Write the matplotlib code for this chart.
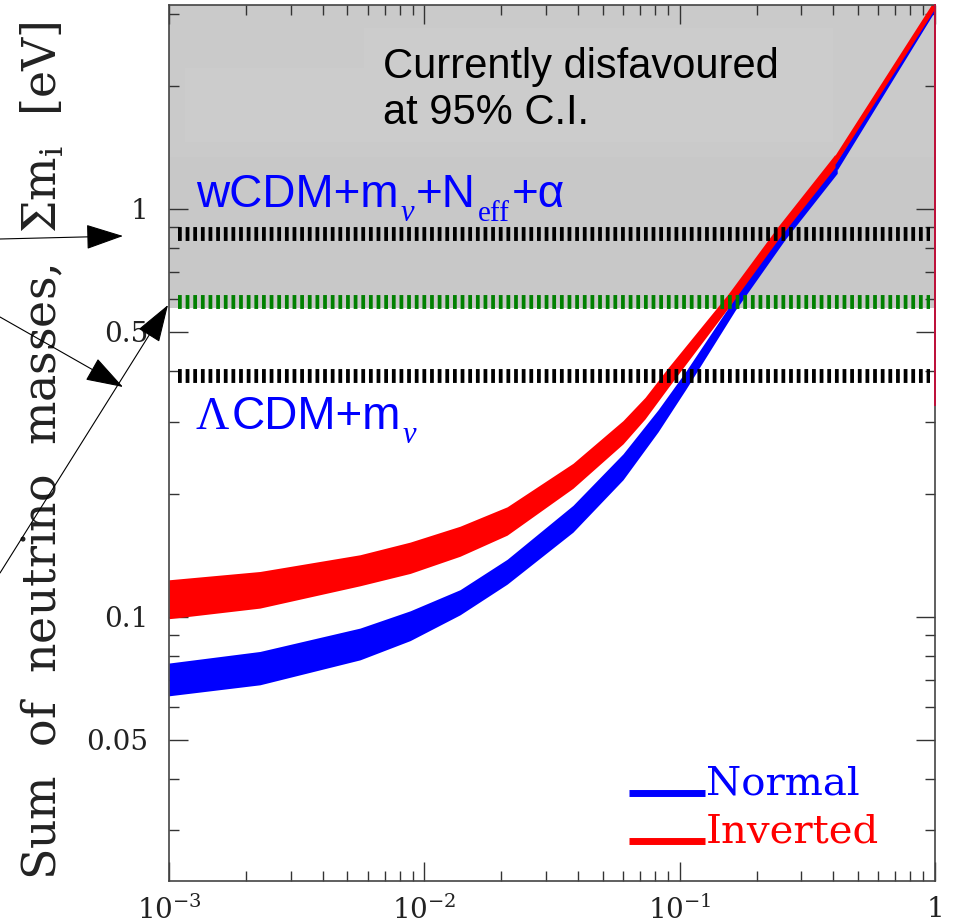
import matplotlib

matplotlib.use("Agg")
import matplotlib.pyplot as plt
from matplotlib.patches import FancyArrowPatch, Rectangle
from matplotlib.ticker import FixedLocator, LogLocator, NullFormatter

# ---- data ------------------------------------------------------------------
# inverted hierarchy band
inv_m = [0.001, 0.00227, 0.0056, 0.0088, 0.0138, 0.0211, 0.0382, 0.060,
         0.0732, 0.090, 0.155, 0.243, 0.406]
inv_hi = [0.1232, 0.1291, 0.1419, 0.1524, 0.1667, 0.1860, 0.2377, 0.3026,
          0.3449, 0.4076, 0.6190, 0.9060, 1.360]
inv_lo = [0.0989, 0.1050, 0.1191, 0.1277, 0.1407, 0.1585, 0.2065, 0.2653,
          0.3056, 0.3641, 0.5719, 0.8418, 1.264]
# normal hierarchy band
nor_m = [0.001, 0.00227, 0.0056, 0.0088, 0.0138, 0.0211, 0.0382, 0.060,
         0.0823, 0.106, 0.165, 0.259, 0.414]
nor_hi = [0.0770, 0.0822, 0.0938, 0.1034, 0.1165, 0.1383, 0.1875, 0.2508,
          0.3216, 0.4008, 0.6068, 0.9060, 1.315]
nor_lo = [0.0640, 0.0681, 0.0784, 0.0874, 0.1011, 0.1202, 0.1612, 0.2167,
          0.2840, 0.3621, 0.5640, 0.8418, 1.222]

# thin continuation of both bands up to the corner
inv_tail_m = [0.406, 1.0]
inv_tail = [1.31, 3.16]
nor_tail_m = [0.414, 1.0]
nor_tail = [1.27, 3.12]
edge_line = [0.33, 3.16]   # red trace running down the right edge

limit_wcdm = 0.87      # black dashed, upper
limit_95 = 0.59        # green dashed
limit_lcdm = 0.39      # black dashed, lower
gray_floor = 0.57

x_lim = (1e-3, 1.0)
y_lim = (0.0225, 3.16)
x_major = [1e-3, 1e-2, 1e-1, 1.0]
x_labels = [r"$10^{-3}$", r"$10^{-2}$", r"$10^{-1}$", "1"]
y_major = [0.05, 0.1, 0.5, 1.0]
y_labels = ["0.05", "0.1", "0.5", "1"]
y_minor = [0.03, 0.04, 0.06, 0.07, 0.08, 0.09, 0.2, 0.3, 0.4,
           0.6, 0.7, 0.8, 0.9, 2, 3]

_BLUE = "#0000ff"
_RED = "#ff0000"
_GREEN = "#008000"
_INK = "#222222"
_SANS = "Liberation Sans"
_SERIF = "Liberation Serif"
W, H = 954, 924

fig = plt.figure(figsize=(W / 100, H / 100), dpi=100)
ax = fig.add_axes([169 / W, 1 - 881 / H, 766 / W, 876 / H])
ax.set_xscale("log")
ax.set_yscale("log")
ax.set_xlim(*x_lim)
ax.set_ylim(*y_lim)

# disfavoured region
ax.axhspan(gray_floor, y_lim[1], color="#c8c8c8", lw=0, zorder=0)
for (x0, y0, w, h, c) in [(0.0, 0.8265, 1.0, 0.1735, "#cacaca"),
                          (0.0209, 0.8436, 0.2337, 0.0844, "#cccccc"),
                          (0.2546, 0.8436, 0.6122, 0.1301, "#cccccc")]:
    ax.add_patch(Rectangle((x0, y0), w, h, transform=ax.transAxes, fc=c,
                           ec="none", zorder=0.5))

# hierarchy bands
ax.fill_between(nor_m, nor_lo, nor_hi, color=_BLUE, lw=0, zorder=2)
ax.plot(nor_tail_m, nor_tail, color=_BLUE, lw=3.6, zorder=2)
ax.fill_between(inv_m, inv_lo, inv_hi, color=_RED, lw=0, zorder=2.1)
ax.plot(inv_tail_m, inv_tail, color=_RED, lw=3.6, zorder=2.1)
ax.plot([1.0, 1.0], edge_line, color="#c0103a", lw=1.4, zorder=2.6,
        clip_on=False)

# upper limits
dash = (0, (0.27, 0.28))
for val, col in [(limit_wcdm, "black"), (limit_95, _GREEN), (limit_lcdm, "black")]:
    ax.axhline(val, xmin=0.012, xmax=0.994, color=col, lw=10, ls=dash,
               dash_capstyle="butt", zorder=3)

# texts
ax.text(0.2794, 0.9167, "Currently disfavoured", transform=ax.transAxes,
        family=_SANS, fontsize=30, color="black", va="baseline")
ax.text(0.2794, 0.8642, "at 95% C.I.", transform=ax.transAxes,
        family=_SANS, fontsize=30, color="black", va="baseline")

renderer = fig.canvas.get_renderer()


def _chain(x, y, pieces, color, gap=2):
    """Lay text pieces side by side from pixel (x, baseline y), top-left origin;
    each piece is (text, size, family, style, drop_px)."""
    for s, size, fam, style, drop in pieces:
        t = fig.text(x / W, 1 - (y + drop) / H, s, fontsize=size, family=fam,
                     style=style, color=color, va="baseline", ha="left")
        x += t.get_window_extent(renderer).width + gap


_chain(196, 207, [("wCDM+m", 33, _SANS, "normal", 0),
                  ("ν", 22, _SERIF, "italic", 14),
                  ("+N", 33, _SANS, "normal", 0),
                  ("eff", 21, _SERIF, "normal", 14),
                  ("+α", 33, _SANS, "normal", 0)], _BLUE)
_chain(196, 429, [("Λ", 33, _SERIF, "normal", 0),
                  ("CDM+m", 33, _SANS, "normal", 0),
                  ("ν", 22, _SERIF, "italic", 14)], _BLUE)

# legend
for yl, yt, col, name in [(0.1005, 0.0982, _BLUE, "Normal"),
                          (0.0457, 0.0434, _RED, "Inverted")]:
    ax.plot([0.6005, 0.6997], [yl, yl], transform=ax.transAxes, color=col,
            lw=5, solid_capstyle="butt", zorder=4)
    ax.text(0.7005, yt, name, transform=ax.transAxes, family="DejaVu Serif",
            fontsize=29, color=col, va="baseline")

# axes styling
ax.set_xticks(x_major, x_labels, family="DejaVu Serif",
              math_fontfamily="dejavuserif", fontsize=20, color=_INK)
ax.xaxis.set_minor_locator(LogLocator(base=10, subs=range(2, 10)))
ax.xaxis.set_minor_formatter(NullFormatter())
ax.set_yticks(y_major, y_labels, family="DejaVu Serif", fontsize=20, color=_INK)
ax.yaxis.set_minor_locator(FixedLocator(y_minor))
ax.yaxis.set_minor_formatter(NullFormatter())
ax.tick_params(which="both", direction="in", top=True, right=True,
               color="#333333", width=1.0)
ax.tick_params(which="major", length=14)
ax.tick_params(which="minor", length=7)
ax.tick_params(axis="y", which="major", pad=15)
ax.tick_params(axis="x", which="major", pad=11)
for sp in ax.spines.values():
    sp.set_color("#444444")
    sp.set_linewidth(1.2)

ax.set_ylabel("Sum  of  neutrino  masses,  Σm$_\\mathrm{i}$  [eV]",
              family="DejaVu Serif", math_fontfamily="dejavuserif",
              fontsize=33, color=_INK)
ax.yaxis.set_label_coords(-0.133, 0.4909)


# arrows cut off at the left edge (pixel coords, origin top-left)
def _px(x, y):
    return x / W, 1 - y / H


for start, end in [((0, 239), (123, 236)), ((0, 317), (123, 387)),
                   ((0, 573), (168, 305))]:
    fig.add_artist(FancyArrowPatch(
        _px(*start), _px(*end), transform=fig.transFigure,
        arrowstyle="-|>,head_length=2.4,head_width=0.8", mutation_scale=10,
        color="black", lw=0.8, shrinkA=0, shrinkB=0, zorder=5))

fig.savefig("out.png", dpi=100, facecolor="white")
